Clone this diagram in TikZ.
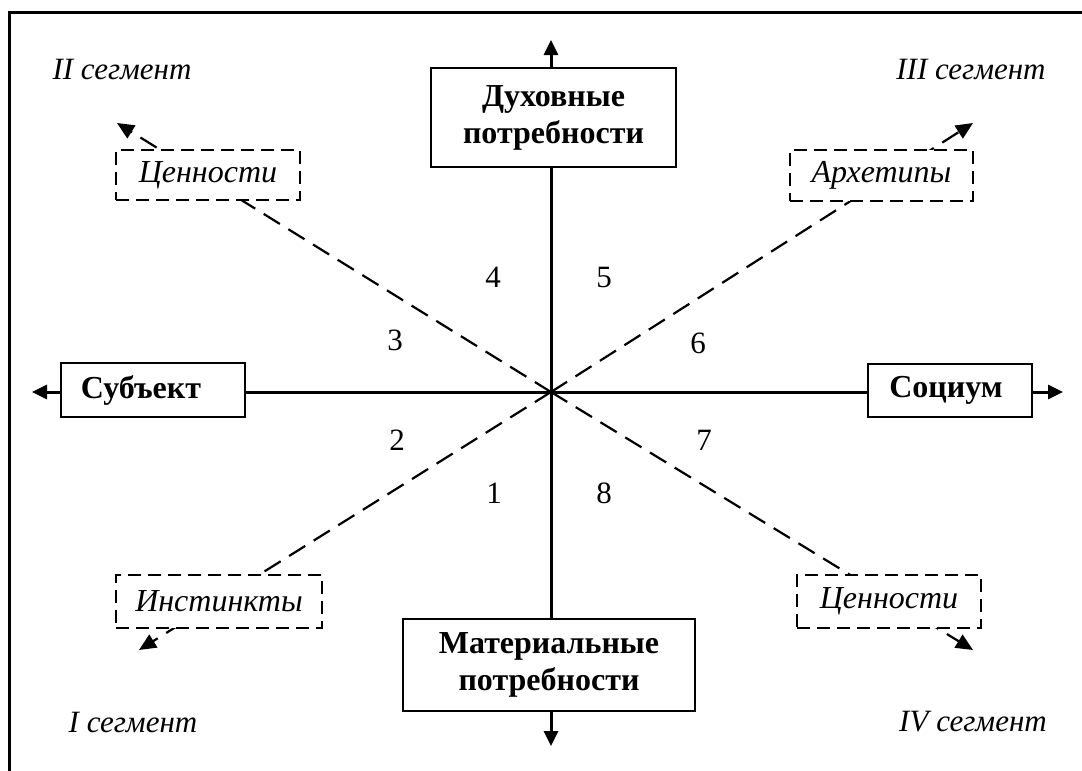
\documentclass[tikz,border=0pt]{standalone}
\usepackage{fontspec}
\setmainfont{Liberation Serif}
\usetikzlibrary{arrows.meta}
\begin{document}
\begin{tikzpicture}[x=1pt,y=-1pt,
  solidbox/.style={draw,line width=2pt,fill=white,align=center,font=\fontsize{32}{37}\selectfont\bfseries,inner sep=0pt},
  dbox/.style={draw,line width=2pt,fill=white,dash pattern=on 13pt off 7pt,font=\fontsize{32}{37}\selectfont\itshape,inner sep=0pt},
  axis/.style={line width=3pt},
  axarrow/.style={line width=3pt,-{Triangle[length=15pt,width=14pt]}},
  diag/.style={line width=2.2pt,dash pattern=on 19pt off 10pt,-{Triangle[length=17pt,width=15pt]}},
  seg/.style={font=\fontsize{31}{36}\selectfont\itshape},
  num/.style={font=\fontsize{31}{36}\selectfont}]
\useasboundingbox (0,0) rectangle (1082,771);
\draw[line width=3pt] (9,771) -- (9,12) -- (1082,12);
% center and arrow tips
\coordinate (c) at (551,392);
\coordinate (tTL) at (117,123);
\coordinate (tTR) at (973,123);
\coordinate (tBL) at (139,650);
\coordinate (tBR) at (973,650);
\coordinate (tN) at (551,40);
\coordinate (tS) at (551,746);
\coordinate (tW) at (32,392);
\coordinate (tE) at (1063,392);
% diagonals
\draw[diag] (c) -- (tTL);
\draw[diag] (c) -- (tTR);
\draw[diag] (c) -- (tBL);
\draw[diag] (c) -- (tBR);
% dashed boxes
\node[dbox,minimum width=184pt,minimum height=50pt] (vTL) at (208,175) {Ценности};
\node[dbox,minimum width=183pt,minimum height=51pt] (arch) at (881.5,175.5) {Архетипы};
\node[dbox,minimum width=206pt,minimum height=53pt] (inst) at (219,601.5) {Инстинкты};
\node[dbox,minimum width=184pt,minimum height=53pt] (vBR) at (889,601.5) {Ценности};
% solid boxes
\node[solidbox,minimum width=245pt,minimum height=99pt] (top) at (553.5,117.5) {Духовные\\потребности};
\node[solidbox,minimum width=292pt,minimum height=92pt] (bot) at (549,665) {Материальные\\потребности};
\node[solidbox,minimum width=184pt,minimum height=54pt] (subj) at (153,390) {Субъект\hspace*{24pt}};
\node[solidbox,minimum width=164pt,minimum height=53pt] (soc) at (950,390.5) {Социум\hspace*{8pt}};
% axes
\draw[axis] (subj.east |- c) -- (soc.west |- c);
\draw[axis] (c |- top.south) -- (c |- bot.north);
\draw[axarrow] (c |- top.north) -- (tN);
\draw[axarrow] (c |- bot.south) -- (tS);
\draw[axarrow] (subj.west |- c) -- (tW);
\draw[axarrow] (soc.east |- c) -- (tE);
% numbers
\node[num] (n4) at (493,277) {4};
\node[num] (n5) at (604,277) {5};
\node[num] (n3) at (395,340) {3};
\node[num] (n6) at (698,343) {6};
\node[num] (n2) at (397,440) {2};
\node[num] (n7) at (704,440) {7};
\node[num] (n1) at (494,493) {1};
\node[num] (n8) at (604,493) {8};
% segment labels
\node[seg] (s2) at (122,70) {II сегмент};
\node[seg] (s3) at (971,70) {III сегмент};
\node[seg] (s1) at (133,722) {I сегмент};
\node[seg] (s4) at (973,722) {IV сегмент};
\end{tikzpicture}
\end{document}
